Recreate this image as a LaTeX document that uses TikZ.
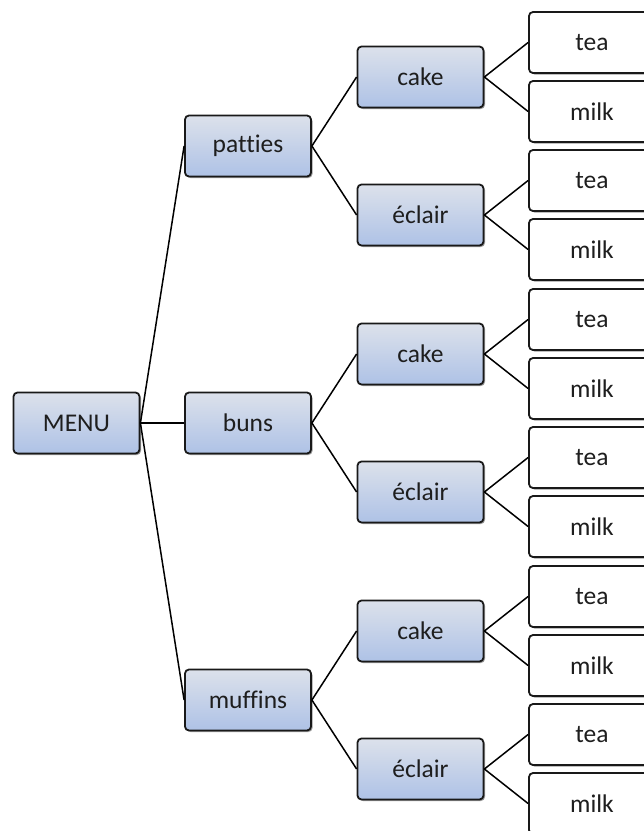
\documentclass[tikz,border=0pt]{standalone}
\usepackage{fontspec}
\setmainfont{Carlito}[Ligatures=NoCommon]
\usetikzlibrary{shadows}
\definecolor{boxtop}{RGB}{220,225,235}
\definecolor{boxbot}{RGB}{174,194,230}
\definecolor{txt}{RGB}{30,30,30}
\tikzset{
  base/.style={draw=black!90, line width=1.8pt, rounded corners=4pt,
    minimum width=126pt, minimum height=61pt, inner sep=0pt,
    font=\fontsize{25.5}{30}\selectfont, text=txt,
    drop shadow={shadow xshift=1.5pt, shadow yshift=-1.5pt, opacity=0.55, fill=black!70}},
  bluebox/.style={base, top color=boxtop, bottom color=boxbot},
  leafbox/.style={base, fill=white},
  link/.style={line width=1.5pt, black}
}
\begin{document}
\begin{tikzpicture}[x=1pt,y=-1pt]
\useasboundingbox (0,0) rectangle (644,831);
\node[bluebox] (menu) at (76.5,423) {MENU};
\node[bluebox] (pat) at (248,146) {patties};
\node[bluebox] (bun) at (248,423) {buns};
\node[bluebox] (muf) at (248,700) {muffins};
\node[bluebox] (c1) at (420.5,77) {cake};
\node[bluebox] (e1) at (420.5,215) {éclair};
\node[bluebox] (c2) at (420.5,354) {cake};
\node[bluebox] (e2) at (420.5,492) {éclair};
\node[bluebox] (c3) at (420.5,631) {cake};
\node[bluebox] (e3) at (420.5,769) {éclair};
\node[leafbox] (t1) at (592,42.5) {tea};
\node[leafbox] (m1) at (592,111.5) {milk};
\node[leafbox] (t2) at (592,180.5) {tea};
\node[leafbox] (m2) at (592,249.5) {milk};
\node[leafbox] (t3) at (592,319.5) {tea};
\node[leafbox] (m3) at (592,388.5) {milk};
\node[leafbox] (t4) at (592,457.5) {tea};
\node[leafbox] (m4) at (592,526.5) {milk};
\node[leafbox] (t5) at (592,596.5) {tea};
\node[leafbox] (m5) at (592,665.5) {milk};
\node[leafbox] (t6) at (592,734.5) {tea};
\node[leafbox] (m6) at (592,803.5) {milk};
\draw[link] (menu.east) -- (pat.west);
\draw[link] (menu.east) -- (bun.west);
\draw[link] (menu.east) -- (muf.west);
\draw[link] (pat.east) -- (c1.west);
\draw[link] (pat.east) -- (e1.west);
\draw[link] (bun.east) -- (c2.west);
\draw[link] (bun.east) -- (e2.west);
\draw[link] (muf.east) -- (c3.west);
\draw[link] (muf.east) -- (e3.west);
\draw[link] (c1.east) -- (t1.west);
\draw[link] (c1.east) -- (m1.west);
\draw[link] (e1.east) -- (t2.west);
\draw[link] (e1.east) -- (m2.west);
\draw[link] (c2.east) -- (t3.west);
\draw[link] (c2.east) -- (m3.west);
\draw[link] (e2.east) -- (t4.west);
\draw[link] (e2.east) -- (m4.west);
\draw[link] (c3.east) -- (t5.west);
\draw[link] (c3.east) -- (m5.west);
\draw[link] (e3.east) -- (t6.west);
\draw[link] (e3.east) -- (m6.west);
\end{tikzpicture}
\end{document}
